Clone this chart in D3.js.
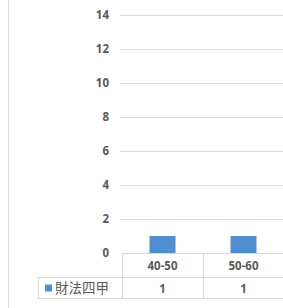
<!DOCTYPE html>
<html>
<head>
<meta charset="utf-8">
<script src="https://cdn.jsdelivr.net/npm/d3@7"></script>
<style>
  body { margin: 0; background: #fff; }
  text { fill: #595959; }
</style>
</head>
<body>
<svg id="chart"></svg>
<script>
// data
const categories = ["40-50", "50-60"];
const seriesName = "財法四甲";
const seriesValues = [1, 1];
const yTicks = [0, 2, 4, 6, 8, 10, 12, 14];

const width = 283, height = 308;
const svg = d3.select('#chart')
  .attr('width', width)
  .attr('height', height);

const plotLeft = 122, plotRight = 284;
const plotTop = 15, plotBottom = 253;
const rowH1 = 24, rowH2 = 21;
const legendLeft = 38;
const gridColor = '#d9d9d9';
const barColor = '#4f8fd0';
const numFont = '"Open Sans", sans-serif';

// outer frame line on the left
svg.append('line')
  .attr('x1', 8.5).attr('x2', 8.5)
  .attr('y1', 0).attr('y2', height)
  .attr('stroke', gridColor);

const x = d3.scaleBand()
  .domain(categories)
  .range([plotLeft, plotRight]);

const y = d3.scaleLinear()
  .domain([0, 14])
  .range([plotBottom, plotTop]);

// gridlines
svg.append('g')
  .selectAll('line')
  .data(yTicks.filter(d => d > 0))
  .join('line')
    .attr('x1', 120).attr('x2', width)
    .attr('y1', d => Math.round(y(d)) + 0.5)
    .attr('y2', d => Math.round(y(d)) + 0.5)
    .attr('stroke', gridColor);

// y tick labels
svg.append('g')
  .selectAll('text')
  .data(yTicks)
  .join('text')
    .attr('x', 109)
    .attr('y', d => y(d))
    .attr('dy', '0.35em')
    .attr('text-anchor', 'end')
    .attr('font-family', numFont)
    .attr('font-weight', 'bold')
    .attr('font-size', 11.5)
    .text(d => d);

// bars
const barW = 26;
svg.append('g')
  .selectAll('rect')
  .data(seriesValues)
  .join('rect')
    .attr('x', (d, i) => x(categories[i]) + x.bandwidth() / 2 - barW / 2)
    .attr('y', d => y(d))
    .attr('width', barW)
    .attr('height', d => y(0) - y(d))
    .attr('fill', barColor);

// data table
const table = svg.append('g')
  .attr('stroke', gridColor)
  .attr('fill', 'none');
const rowMid = plotBottom + rowH1;
const tableBottom = rowMid + rowH2;

table.append('line')
  .attr('x1', plotLeft).attr('x2', width)
  .attr('y1', plotBottom + 0.5).attr('y2', plotBottom + 0.5);
table.append('line')
  .attr('x1', legendLeft).attr('x2', width)
  .attr('y1', rowMid + 0.5).attr('y2', rowMid + 0.5);
table.append('line')
  .attr('x1', legendLeft).attr('x2', width)
  .attr('y1', tableBottom + 0.5).attr('y2', tableBottom + 0.5);
table.append('line')
  .attr('x1', legendLeft + 0.5).attr('x2', legendLeft + 0.5)
  .attr('y1', rowMid).attr('y2', tableBottom);
table.selectAll('.col')
  .data(categories)
  .join('line')
    .attr('class', 'col')
    .attr('x1', d => Math.round(x(d)) + 0.5)
    .attr('x2', d => Math.round(x(d)) + 0.5)
    .attr('y1', plotBottom).attr('y2', tableBottom);

// header row: category labels
svg.append('g')
  .selectAll('text')
  .data(categories)
  .join('text')
    .attr('x', d => x(d) + x.bandwidth() / 2)
    .attr('y', plotBottom + rowH1 / 2 + 1)
    .attr('dy', '0.35em')
    .attr('text-anchor', 'middle')
    .attr('font-family', numFont)
    .attr('font-weight', 'bold')
    .attr('font-size', 11.5)
    .text(d => d);

// value row
svg.append('g')
  .selectAll('text')
  .data(seriesValues)
  .join('text')
    .attr('x', (d, i) => x(categories[i]) + x.bandwidth() / 2)
    .attr('y', rowMid + rowH2 / 2 + 1)
    .attr('dy', '0.35em')
    .attr('text-anchor', 'middle')
    .attr('font-family', numFont)
    .attr('font-weight', 'bold')
    .attr('font-size', 11.5)
    .text(d => d);

// legend key in the table
svg.append('rect')
  .attr('x', 45).attr('y', rowMid + rowH2 / 2 - 3)
  .attr('width', 7).attr('height', 7)
  .attr('fill', barColor);
svg.append('text')
  .attr('x', 55)
  .attr('y', rowMid + rowH2 / 2 + 1)
  .attr('dy', '0.35em')
  .attr('font-family', '"Noto Sans CJK TC", sans-serif')
  .attr('font-size', 13.5)
  .text(seriesName);
</script>
</body>
</html>
